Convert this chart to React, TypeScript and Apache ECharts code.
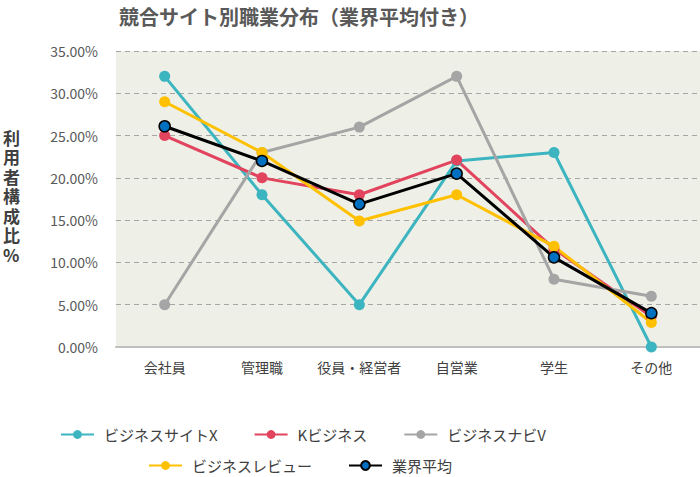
import React, { useEffect, useRef } from "react";
import * as echarts from "echarts";

const categories = ["会社員", "管理職", "役員・経営者", "自営業", "学生", "その他"];
const siteX = [32, 18, 5, 22, 23, 0];
const kBiz = [25, 20, 18, 22.1, 11.6, 3.6];
const naviV = [5, 23, 26, 32, 8, 6];
const review = [29, 23, 14.9, 18, 11.9, 2.9];
const average = [26.1, 22, 16.9, 20.5, 10.6, 4];
const yTicks = { min: 0, max: 35, interval: 5 };
const yName = ["利", "用", "者", "構", "成", "比", "%"];

const FONT = "'Noto Sans CJK JP', 'Noto Sans', sans-serif";

export default function App() {
  const ref = useRef<HTMLDivElement>(null);
  useEffect(() => {
    document.body.style.margin = "0";
    const chart = echarts.init(ref.current!, undefined, { renderer: "svg" });
    const mk = (name: string, data: number[], color: string, extra: any = {}) => ({
      name,
      type: "line",
      data,
      symbol: "circle",
      symbolSize: 11,
      lineStyle: { width: 3, color },
      itemStyle: { color },
      ...extra,
    });
    const legendText = { fontSize: 15, color: "#404040", fontFamily: FONT, padding: [0, 0, 0, 5] };
    chart.setOption({
      animation: false,
      textStyle: { fontFamily: FONT },
      title: {
        text: "競合サイト別職業分布（業界平均付き）",
        left: 114,
        top: 1,
        textStyle: { fontSize: 20, fontWeight: "bold", color: "#595959", fontFamily: FONT },
      },
      grid: {
        left: 116,
        right: 0,
        top: 51,
        bottom: 130,
        show: true,
        backgroundColor: "#EEEFE6",
        borderWidth: 0,
      },
      xAxis: {
        type: "category",
        data: categories,
        boundaryGap: true,
        axisLine: { lineStyle: { color: "#BFBFBF", width: 2 } },
        axisTick: { show: false },
        axisLabel: { color: "#404040", fontSize: 14, margin: 13, interval: 0, fontFamily: FONT },
      },
      yAxis: {
        type: "value",
        min: yTicks.min,
        max: yTicks.max,
        interval: yTicks.interval,
        axisLine: { show: false },
        axisTick: { show: false },
        axisLabel: {
          color: "#595959",
          fontSize: 14,
          margin: 18,
          fontFamily: FONT,
          formatter: (v: number) => v.toFixed(2) + "%",
        },
        splitLine: { lineStyle: { type: [5, 4], color: "#A6A6A6", width: 1 } },
      },
      legend: [
        {
          data: ["ビジネスサイトX", "Kビジネス", "ビジネスナビV"],
          left: 55,
          top: 422,
          itemWidth: 33,
          itemHeight: 11,
          itemGap: 36,
          textStyle: legendText,
        },
        {
          data: ["ビジネスレビュー", "業界平均"],
          left: 143,
          top: 453,
          itemWidth: 33,
          itemHeight: 11,
          itemGap: 36,
          textStyle: legendText,
        },
      ],
      graphic: yName.map((ch, i) => ({
        type: "text",
        left: 3,
        top: 128 + i * 19.5,
        style: {
          text: ch,
          fontSize: 17,
          lineHeight: 18,
          fontWeight: "bold",
          fill: "#404040",
          fontFamily: FONT,
        },
      })),
      series: [
        mk("ビジネスサイトX", siteX, "#3CB5C0"),
        mk("Kビジネス", kBiz, "#E2445E"),
        mk("ビジネスナビV", naviV, "#A5A5A5"),
        mk("ビジネスレビュー", review, "#FFC000"),
        mk("業界平均", average, "#000000", {
          itemStyle: { color: "#0070C0", borderColor: "#000000", borderWidth: 1.5 },
          lineStyle: { width: 3, color: "#000000" },
        }),
      ],
    });
    return () => chart.dispose();
  }, []);
  return <div ref={ref} style={{ width: 700, height: 477 }} />;
}
